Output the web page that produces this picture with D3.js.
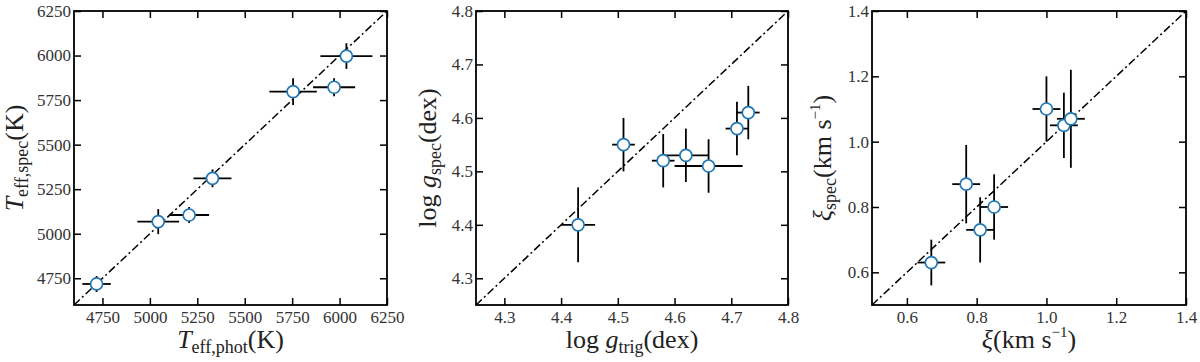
<!DOCTYPE html>
<html>
<head>
<meta charset="utf-8">
<script src="https://cdn.jsdelivr.net/npm/d3@7"></script>
<style>
body { margin: 0; background: #fff; }
svg { display: block; }
text { font-family: "Liberation Serif", "DejaVu Serif", serif; }
</style>
</head>
<body>
<div id="chart"></div>
<script>
// panel 1: effective temperature
const tPhot = [4719, 5044, 5207, 5330, 5755, 5971, 6036];
const tPhotErr = [75, 110, 105, 100, 125, 111, 137];
const tSpec = [4718, 5068, 5105, 5311, 5797, 5822, 5997];
const tSpecErr = [45, 70, 45, 50, 75, 50, 72];
const tTicks = [4750, 5000, 5250, 5500, 5750, 6000, 6250];

// panel 2: surface gravity
const gTrig = [4.43, 4.51, 4.58, 4.62, 4.66, 4.71, 4.73];
const gTrigErr = [0.03, 0.02, 0.02, 0.04, 0.06, 0.02, 0.02];
const gSpec = [4.40, 4.55, 4.52, 4.53, 4.51, 4.58, 4.61];
const gSpecErr = [0.07, 0.05, 0.05, 0.05, 0.05, 0.05, 0.05];
const gTicks = [4.3, 4.4, 4.5, 4.6, 4.7, 4.8];

// panel 3: microturbulence
const vtPhot = [0.67, 0.77, 0.81, 0.85, 1.00, 1.05, 1.07];
const vtPhotErr = [0.04, 0.04, 0.04, 0.04, 0.04, 0.04, 0.04];
const vtSpec = [0.63, 0.87, 0.73, 0.80, 1.10, 1.05, 1.07];
const vtSpecErr = [0.07, 0.12, 0.10, 0.10, 0.10, 0.10, 0.15];
const vtTicks = [0.6, 0.8, 1.0, 1.2, 1.4];

const width = 1200, height = 362;
const plotTop = 11, plotBottom = 305;
const serif = '"Liberation Serif", "DejaVu Serif", serif';

const svg = d3.select("#chart").append("svg")
    .attr("width", width)
    .attr("height", height);

// builds a label out of tspans: italic symbols, sub/superscripts
const addLabel = (sel, parts) => {
    let cur = 0;
    parts.forEach(p => {
        const sh = p.sh || 0;
        sel.append("tspan")
            .attr("dy", sh - cur)
            .attr("font-size", p.fs || 26)
            .attr("font-style", p.it ? "italic" : "normal")
            .text(p.t);
        cur = sh;
    });
};

const drawPanel = (p, idx) => {
    const g = svg.append("g");
    const x = d3.scaleLinear().domain(p.dom).range([p.left, p.right]);
    const y = d3.scaleLinear().domain(p.dom).range([plotBottom, plotTop]);

    const clipId = `clip${idx}`;
    svg.append("clipPath").attr("id", clipId)
        .append("rect")
        .attr("x", p.left).attr("y", plotTop)
        .attr("width", p.right - p.left).attr("height", plotBottom - plotTop);

    const inner = g.append("g").attr("clip-path", `url(#${clipId})`);

    // one-to-one line
    inner.append("line")
        .attr("x1", x(p.dom[0])).attr("y1", y(p.dom[0]))
        .attr("x2", x(p.dom[1])).attr("y2", y(p.dom[1]))
        .attr("stroke", "#000")
        .attr("stroke-width", 1.5)
        .attr("stroke-dasharray", "8,3,2,3");

    const pts = p.xs.map((v, i) => ({ x: v, y: p.ys[i], ex: p.xe[i], ey: p.ye[i] }));

    // error bars
    inner.selectAll("line.ex")
        .data(pts)
        .enter().append("line")
        .attr("class", "ex")
        .attr("x1", d => x(d.x - d.ex)).attr("x2", d => x(d.x + d.ex))
        .attr("y1", d => y(d.y)).attr("y2", d => y(d.y))
        .attr("stroke", "#000").attr("stroke-width", 1.8);

    inner.selectAll("line.ey")
        .data(pts)
        .enter().append("line")
        .attr("class", "ey")
        .attr("x1", d => x(d.x)).attr("x2", d => x(d.x))
        .attr("y1", d => y(d.y - d.ey)).attr("y2", d => y(d.y + d.ey))
        .attr("stroke", "#000").attr("stroke-width", 1.8);

    // markers
    inner.selectAll("circle")
        .data(pts)
        .enter().append("circle")
        .attr("cx", d => x(d.x))
        .attr("cy", d => y(d.y))
        .attr("r", 6)
        .attr("fill", "#fff")
        .attr("stroke", "#1f77b4")
        .attr("stroke-width", 1.7);

    // axes, ticks pointing inward on all four sides
    const fmt = p.fmt;
    const axB = g.append("g").attr("transform", `translate(0,${plotBottom})`)
        .call(d3.axisBottom(x).tickValues(p.ticks).tickSize(-7).tickPadding(6).tickFormat(fmt));
    const axL = g.append("g").attr("transform", `translate(${p.left},0)`)
        .call(d3.axisLeft(y).tickValues(p.ticks).tickSize(-7).tickPadding(3).tickFormat(fmt));
    const axT = g.append("g").attr("transform", `translate(0,${plotTop})`)
        .call(d3.axisTop(x).tickValues(p.ticks).tickSize(-7).tickFormat(""));
    const axR = g.append("g").attr("transform", `translate(${p.right},0)`)
        .call(d3.axisRight(y).tickValues(p.ticks).tickSize(-7).tickFormat(""));

    [axB, axL, axT, axR].forEach(a => {
        a.attr("font-family", serif).attr("font-size", 17);
        a.select(".domain").remove();
        a.selectAll("line").attr("stroke", "#000").attr("stroke-width", 1.5);
        a.selectAll("text")
            .style("font-family", serif)
            .style("font-size", "17px")
            .attr("fill", "#333");
    });

    // frame
    g.append("rect")
        .attr("x", p.left).attr("y", plotTop)
        .attr("width", p.right - p.left).attr("height", plotBottom - plotTop)
        .attr("fill", "none")
        .attr("stroke", "#000")
        .attr("stroke-width", 1.8);

    // axis titles
    const xl = g.append("text")
        .attr("x", (p.left + p.right) / 2)
        .attr("y", 348)
        .attr("text-anchor", "middle")
        .attr("fill", "#222");
    addLabel(xl, p.xlabel);

    const yl = g.append("text")
        .attr("transform", `translate(${p.ylx},${(plotTop + plotBottom) / 2}) rotate(-90)`)
        .attr("text-anchor", "middle")
        .attr("fill", "#222");
    addLabel(yl, p.ylabel);
};

const panels = [
    {
        left: 74, right: 387, dom: [4600, 6250], ticks: tTicks, fmt: d3.format("d"),
        xs: tPhot, xe: tPhotErr, ys: tSpec, ye: tSpecErr, ylx: 23,
        xlabel: [{ t: "T", it: 1 }, { t: "eff,phot", fs: 18, sh: 5 }, { t: "(K)" }],
        ylabel: [{ t: "T", it: 1 }, { t: "eff,spec", fs: 18, sh: 5 }, { t: "(K)" }]
    },
    {
        left: 476, right: 788, dom: [4.25, 4.8], ticks: gTicks, fmt: d3.format(".1f"),
        xs: gTrig, xe: gTrigErr, ys: gSpec, ye: gSpecErr, ylx: 436,
        xlabel: [{ t: "log " }, { t: "g", it: 1 }, { t: "trig", fs: 18, sh: 5 }, { t: "(dex)" }],
        ylabel: [{ t: "log " }, { t: "g", it: 1 }, { t: "spec", fs: 18, sh: 5 }, { t: "(dex)" }]
    },
    {
        left: 872, right: 1186, dom: [0.5, 1.4], ticks: vtTicks, fmt: d3.format(".1f"),
        xs: vtPhot, xe: vtPhotErr, ys: vtSpec, ye: vtSpecErr, ylx: 831,
        xlabel: [{ t: "ξ", it: 1 }, { t: "(km s" }, { t: "−1", fs: 15, sh: -11 }, { t: ")" }],
        ylabel: [{ t: "ξ", it: 1 }, { t: "spec", fs: 18, sh: 5 }, { t: "(km s" }, { t: "−1", fs: 15, sh: -11 }, { t: ")" }]
    }
];

panels.forEach(drawPanel);
</script>
</body>
</html>
